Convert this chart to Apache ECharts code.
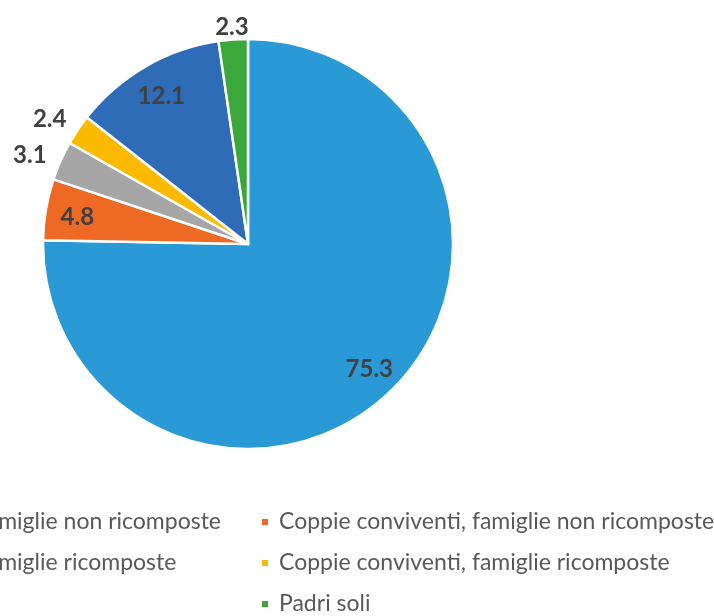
<!DOCTYPE html>
<html>
<head>
<meta charset="utf-8">
<script src="https://cdn.jsdelivr.net/npm/echarts@6/dist/echarts.min.js"></script>
<style>
html,body{margin:0;padding:0;background:#fff;}
#chart{width:714px;height:616px;}
</style>
</head>
<body>
<div id="chart"></div>
<script>
const categories = [
  'Coppie coniugate, famiglie non ricomposte',
  'Coppie conviventi, famiglie non ricomposte',
  'Coppie coniugate, famiglie ricomposte',
  'Coppie conviventi, famiglie ricomposte',
  'Madri sole',
  'Padri soli'
];
const values = [75.3, 4.8, 3.1, 2.4, 12.1, 2.3];
const colors = ['#2A9AD7', '#EE6A24', '#A6A6A6', '#FBB900', '#2E6CB8', '#3AA83A'];
// which label ring each value label sits on (style choice)
const labelRing = [0, 0, 1, 1, 0, 2];

const chart = echarts.init(document.getElementById('chart'), null, {renderer: 'canvas'});
const R = 205;
const center = [248, 244];
const legendFont = 23;
const legendFamily = 'Lato';
const rings = [[0.66, 1.0], [1.02, 1.28], [1.0, 1.14]];
const ringOffsets = [[0, 2], [0, 8], [0, 5]];

function textWidth(t) {
  const c = document.createElement('canvas').getContext('2d');
  c.font = legendFont + 'px ' + legendFamily;
  return c.measureText(t).width;
}
const leftCol = [categories[0], categories[2], categories[4]];
const rightCol = [categories[1], categories[3], categories[5]];
const leftEnd = 220;
const markW = 8, textPad = 5;
const leftX = leftEnd - textWidth(leftCol[0]) - markW - 5 - textPad;

const labelStyle = {color: '#404040', fontSize: 24, fontWeight: 'bold', fontFamily: 'Lato'};

function mainData() {
  return categories.map((n, i) => ({name: n, value: values[i], itemStyle: {color: colors[i]}}));
}
function labelData(ring) {
  return categories.map((n, i) => ({
    name: n, value: values[i],
    label: {show: labelRing[i] === ring}
  }));
}
const legendCommon = {
  orient: 'vertical', top: 510, height: 140, padding: 0, itemWidth: markW, itemHeight: markW, itemGap: 17,
  icon: 'rect', selectedMode: false,
  textStyle: {color: '#595959', fontSize: legendFont, fontFamily: legendFamily, lineHeight: 24, padding: [0, 0, 0, textPad]}
};
const labelSeries = rings.map((rg, k) => ({
  type: 'pie', center: center, radius: [R * rg[0], R * rg[1]], startAngle: 90, clockwise: true, silent: true,
  data: labelData(k), itemStyle: {color: 'rgba(0,0,0,0)'},
  label: Object.assign({position: 'inside', offset: ringOffsets[k], formatter: p => p.value.toFixed(1)}, labelStyle),
  labelLine: {show: false}, emphasis: {disabled: true}
}));
chart.setOption({
  animation: false,
  backgroundColor: '#fff',
  legend: [
    Object.assign({}, legendCommon, {left: leftX, data: leftCol}),
    Object.assign({}, legendCommon, {left: 260, data: rightCol})
  ],
  series: [
    {
      type: 'pie', center: center, radius: R, startAngle: 90, clockwise: true,
      data: mainData(), label: {show: false}, labelLine: {show: false},
      itemStyle: {borderColor: '#fff', borderWidth: 2.5}, emphasis: {disabled: true}
    }
  ].concat(labelSeries)
});
</script>
</body>
</html>
